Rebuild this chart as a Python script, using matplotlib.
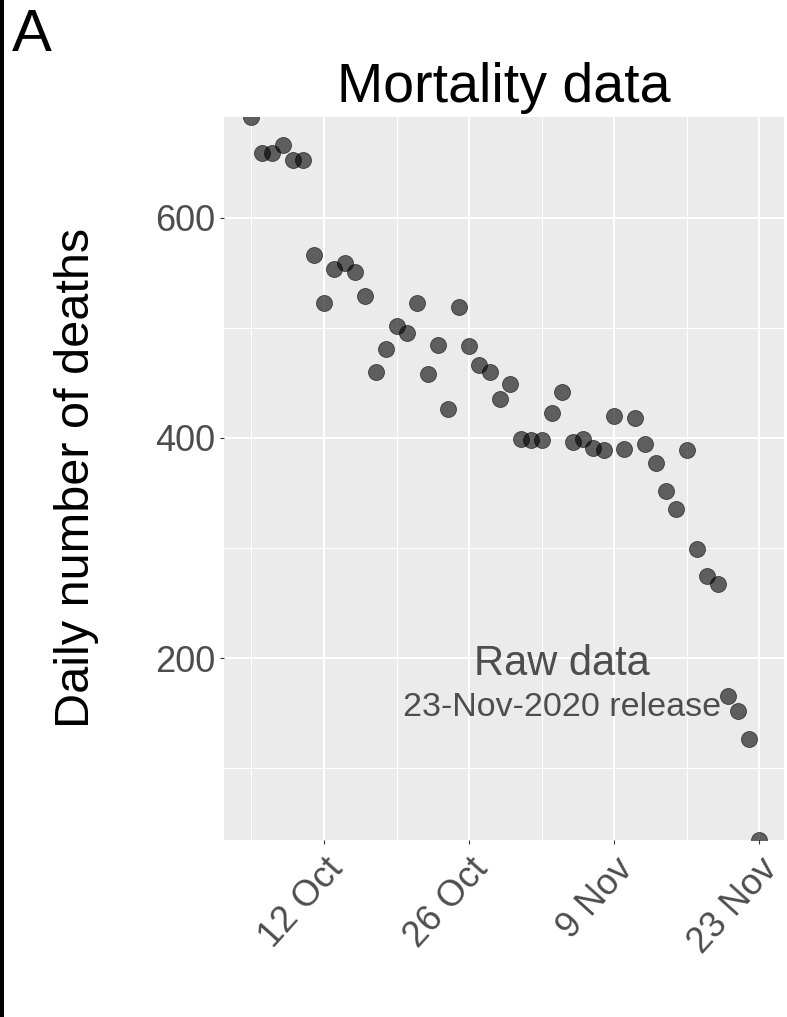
import matplotlib
matplotlib.use("Agg")
import matplotlib.pyplot as plt
import matplotlib.patches as patches
import numpy as np
import pandas as pd

plt.rcParams['font.family'] = ['Liberation Sans', 'DejaVu Sans']

# daily deaths, 5 Oct - 23 Nov 2020 (23-Nov release)
dates = pd.date_range("2020-10-05", "2020-11-23", freq="D")
deaths = [691, 659, 659, 666, 652, 652, 566, 522, 553, 559,
          551, 529, 460, 481, 502, 495, 522, 458, 484, 426,
          519, 483, 466, 460, 435, 449, 399, 398, 398, 423,
          442, 396, 399, 391, 389, 420, 390, 418, 394, 377,
          352, 335, 389, 299, 275, 267, 166, 152, 127, 35]

major_dates = pd.to_datetime(["2020-10-12", "2020-10-26", "2020-11-09", "2020-11-23"])
major_labels = ["12 Oct", "26 Oct", "9 Nov", "23 Nov"]
minor_dates = pd.to_datetime(["2020-10-05", "2020-10-19", "2020-11-02", "2020-11-16"])
y_major = [200, 400, 600]
y_minor = [100, 300, 500]

W, H = 787, 1017
fig = plt.figure(figsize=(W / 100, H / 100), dpi=100)
ax = fig.add_axes([224 / W, 1 - 840 / H, (784 - 224) / W, (840 - 117.3) / H])
ax.set_facecolor('#EBEBEB')

# points (clipped by the panel, like the original)
ax.scatter(dates, deaths, s=133, color='black', alpha=0.6,
           edgecolors='black', linewidths=0.6, zorder=3)

ax.set_xlim(dates[0] - pd.Timedelta(days=2.65), dates[-1] + pd.Timedelta(days=2.4))
ax.set_ylim(min(deaths), max(deaths))

ax.set_xticks(major_dates)
ax.set_xticklabels(major_labels)
ax.set_xticks(minor_dates, minor=True)
ax.set_yticks(y_major)
ax.set_yticks(y_minor, minor=True)

ax.grid(which='major', color='white', linewidth=1.4, zorder=0)
ax.grid(which='minor', color='white', linewidth=0.7, zorder=0)
ax.set_axisbelow(True)
for s in ax.spines.values():
    s.set_visible(False)

ax.tick_params(which='major', length=3.2, width=0.8, color='#333333',
               labelsize=26, labelcolor='#4D4D4D', pad=3.2)
ax.tick_params(axis='x', which='major', pad=5.5)
ax.tick_params(which='minor', length=0)
for lab in ax.get_xticklabels():
    lab.set_rotation(48)
    lab.set_ha('right')
    lab.set_va('top')
    lab.set_rotation_mode('anchor')

# annotation
ax.text(pd.Timestamp("2020-11-04"), 195, "Raw data", fontsize=30,
        color='#4D4D4D', ha='center', va='center')
ax.text(pd.Timestamp("2020-11-04"), 155, "23-Nov-2020 release", fontsize=24.5,
        color='#4D4D4D', ha='center', va='center')

fig.text(504 / W, 1 - 101.7 / H, "Mortality data", fontsize=40,
         ha='center', va='baseline', color='black')
fig.text(77 / W, 1 - 478 / H, "Daily number of deaths", fontsize=35,
         rotation=90, ha='center', va='center', color='black')
fig.text(12 / W, 1 - 51 / H, "A", fontsize=43, ha='left', va='baseline', color='black')

# black strip on the left edge
fig.patches.append(patches.Rectangle((0, 0), 4 / W, 1, transform=fig.transFigure,
                                     facecolor='black', edgecolor='none'))

fig.savefig("out.png", dpi=100)
